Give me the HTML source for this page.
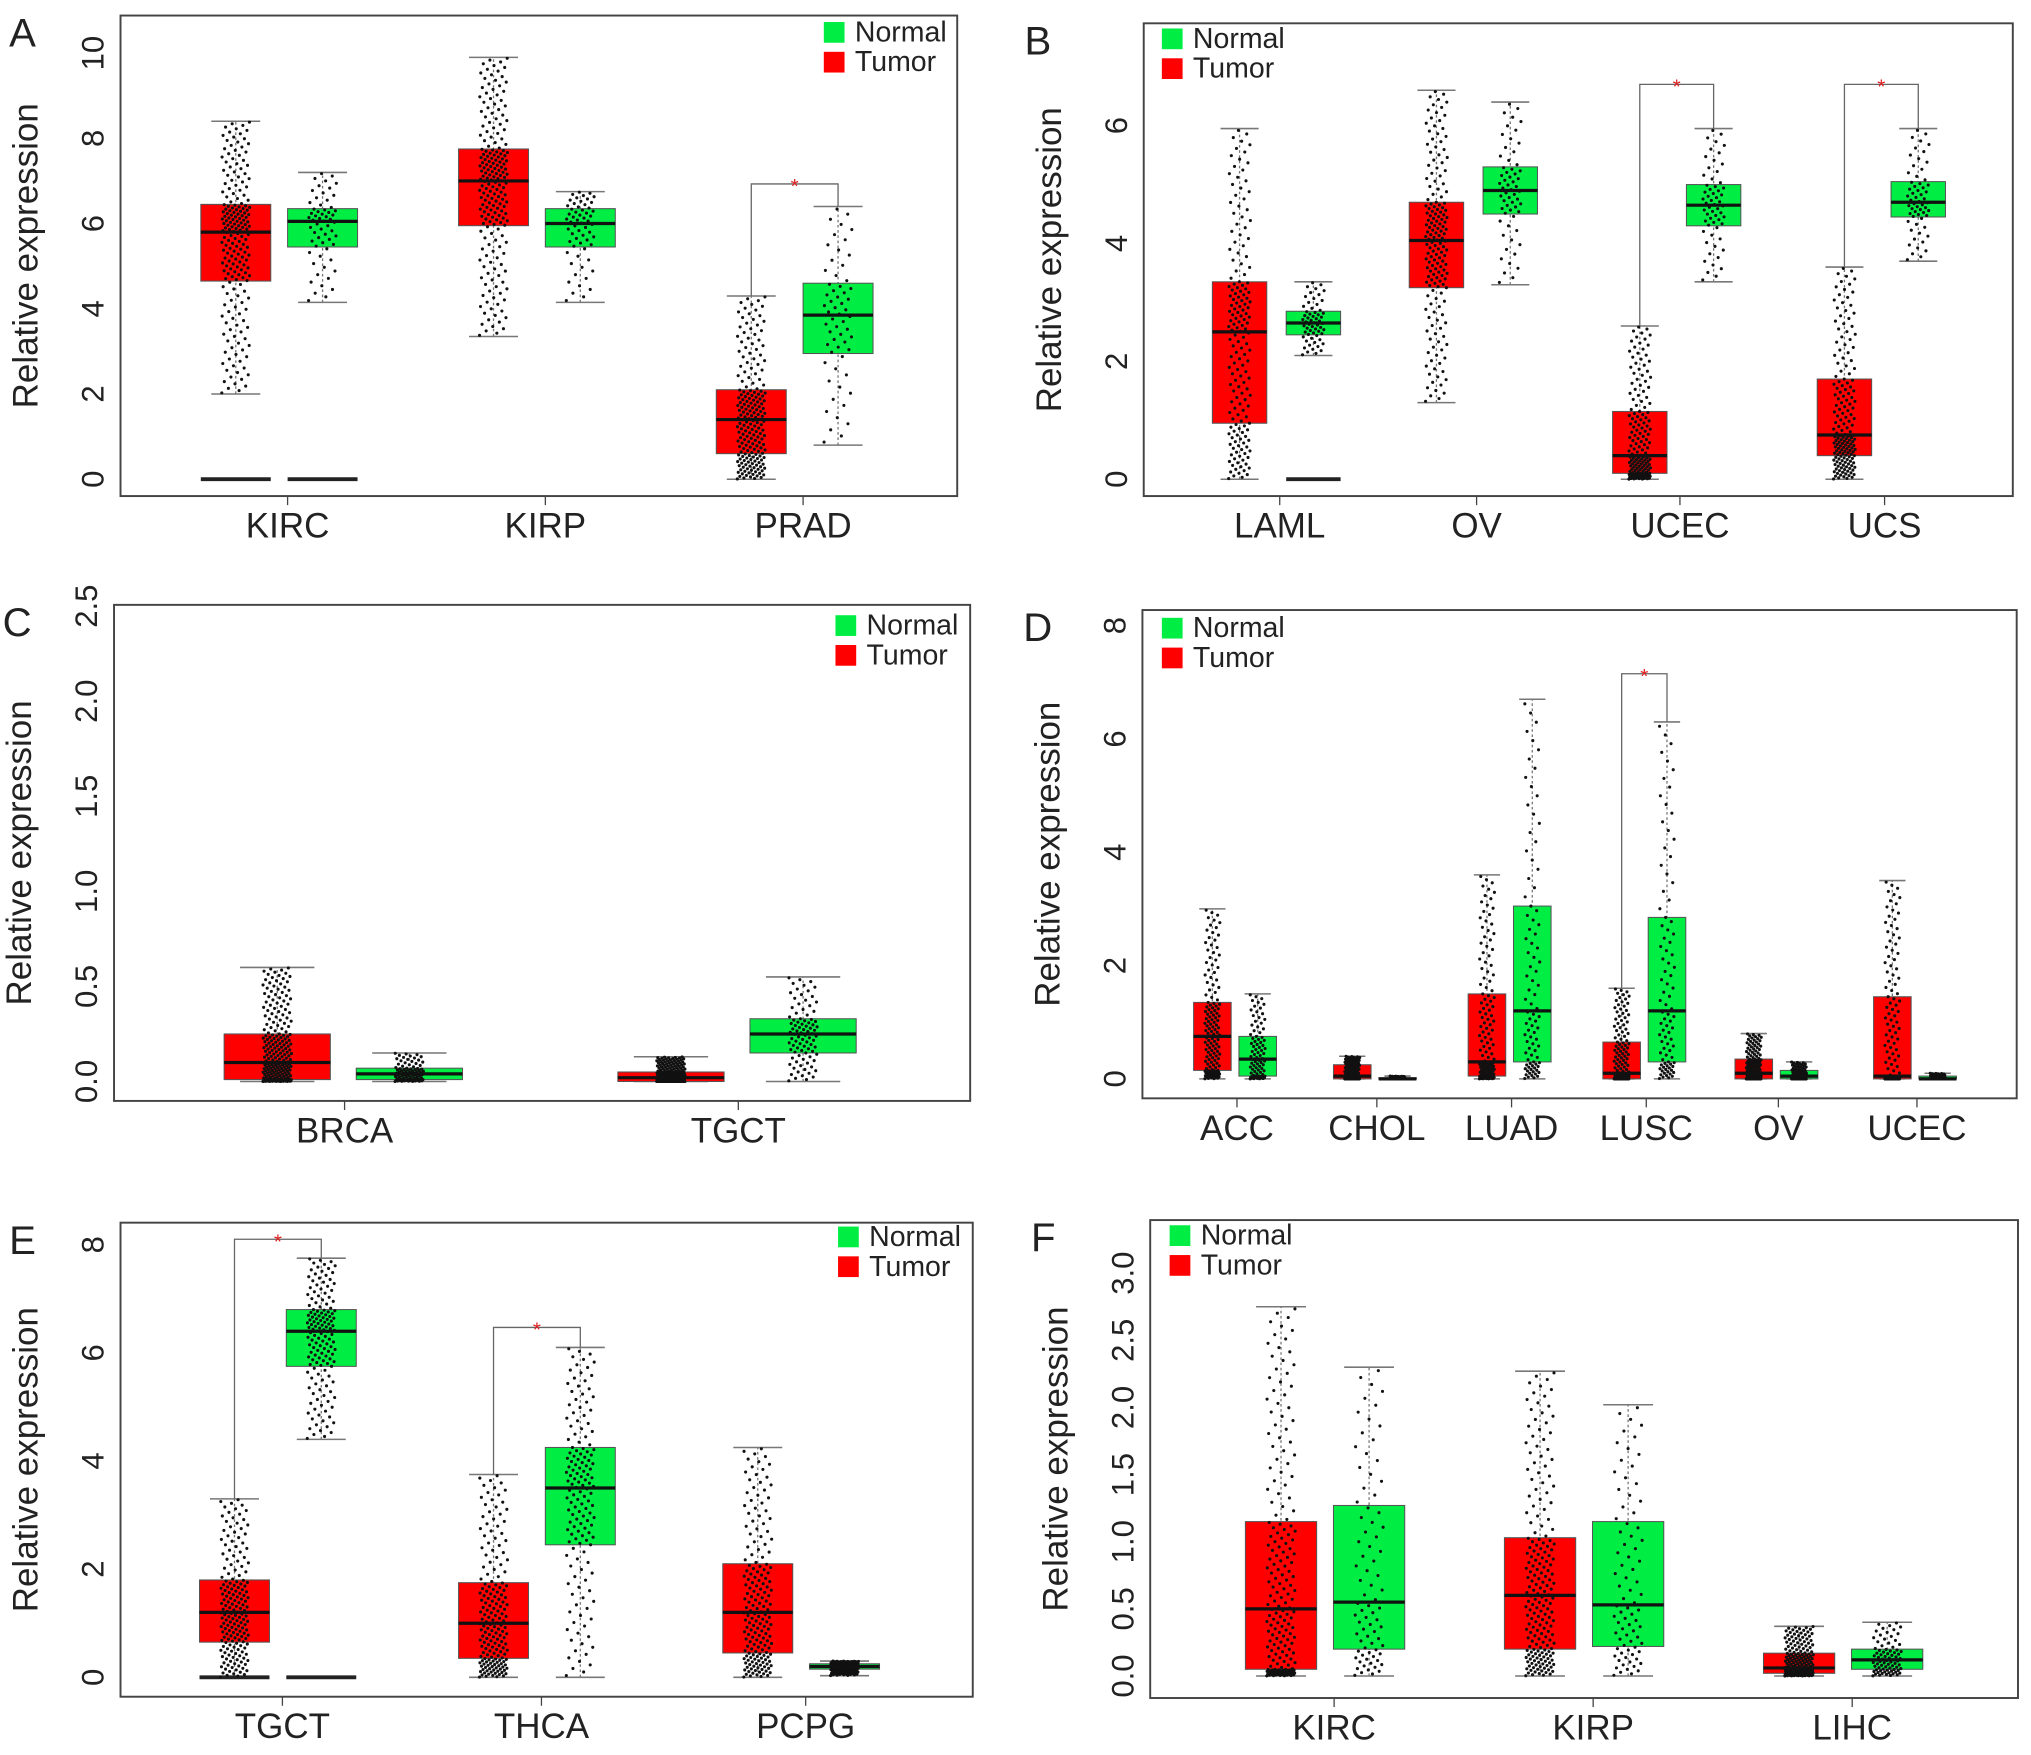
<!DOCTYPE html>
<html><head><meta charset="utf-8"><style>
html,body{margin:0;padding:0;background:#fff;}
svg{display:block;font-family:"Liberation Sans",Arial,sans-serif;}
</style></head><body>
<svg id="fig" width="2031" height="1755" viewBox="0 0 1568 1355" xmlns="http://www.w3.org/2000/svg"></svg>
<script>
// ---- data: [lo, q1, median, q3, hi] per category ----
const aCategories=["KIRC","KIRP","PRAD"];
const aTumor=[[2.0,4.65,5.8,6.45,8.4],[3.35,5.95,7.0,7.75,9.9],[0,0.6,1.4,2.1,4.3]];
const aNormal=[[4.15,5.45,6.05,6.35,7.2],[4.15,5.45,6.0,6.35,6.75],[0.8,2.95,3.85,4.6,6.4]];
const aZero=[[1,1],[0,0],[0,0]];
const aSig=[0,0,6.93];
const aTicks=[0,2,4,6,8,10];

const bCategories=["LAML","OV","UCEC","UCS"];
const bTumor=[[0,0.95,2.5,3.35,5.95],[1.3,3.25,4.05,4.7,6.6],[0,0.1,0.4,1.15,2.6],[0,0.4,0.75,1.7,3.6]];
const bNormal=[[2.1,2.45,2.65,2.85,3.35],[3.3,4.5,4.9,5.3,6.4],[3.35,4.3,4.65,5.0,5.95],[3.7,4.45,4.7,5.05,5.95]];
const bZero=[[0,1],[0,0],[0,0],[0,0]];
const bSig=[0,0,6.7,6.7];
const bTicks=[0,2,4,6];

const cCategories=["BRCA","TGCT"];
const cTumor=[[0,0.01,0.1,0.25,0.6],[0,0.0,0.02,0.05,0.13]];
const cNormal=[[0,0.01,0.04,0.07,0.15],[0,0.15,0.25,0.33,0.55]];
const cZero=[[0,0],[0,0]];
const cSig=[0,0];
const cTicks=[0,0.5,1.0,1.5,2.0,2.5];

const dCategories=["ACC","CHOL","LUAD","LUSC","OV","UCEC"];
const dTumor=[[0,0.15,0.75,1.35,3.0],[0,0,0.05,0.25,0.4],[0,0.05,0.3,1.5,3.6],[0,0,0.1,0.65,1.6],[0,0,0.1,0.35,0.8],[0,0,0.05,1.45,3.5]];
const dNormal=[[0,0.05,0.35,0.75,1.5],[0,0,0,0.02,0.05],[0,0.3,1.2,3.05,6.7],[0,0.3,1.2,2.85,6.3],[0,0,0.05,0.15,0.3],[0,0,0,0.05,0.1]];
const dZero=[[0,0],[0,0],[0,0],[0,0],[0,0],[0,0]];
const dSig=[0,0,0,7.15,0,0];
const dTicks=[0,2,4,6,8];

const eCategories=["TGCT","THCA","PCPG"];
const eTumor=[[0,0.65,1.2,1.8,3.3],[0,0.35,1.0,1.75,3.75],[0,0.45,1.2,2.1,4.25]];
const eNormal=[[4.4,5.75,6.4,6.8,7.75],[0,2.45,3.5,4.25,6.1],[0.03,0.15,0.2,0.25,0.3]];
const eZero=[[1,1],[0,0],[0,0]];
const eSig=[8.1,6.47,0];
const eTicks=[0,2,4,6,8];

const fCategories=["KIRC","KIRP","LIHC"];
const fTumor=[[0,0.05,0.5,1.15,2.75],[0,0.2,0.6,1.03,2.27],[0,0.02,0.06,0.17,0.37]];
const fNormal=[[0,0.2,0.55,1.27,2.3],[0,0.22,0.53,1.15,2.02],[0,0.05,0.12,0.2,0.4]];
const fZero=[[0,0],[0,0],[0,0]];
const fSig=[0,0,0];
const fTicks=[0,0.5,1.0,1.5,2.0,2.5,3.0];

// ---- layout ----
const panels=[
 {id:"a",letter:"A",cats:aCategories,T:aTumor,N:aNormal,Z:aZero,S:aSig,ticks:aTicks,fmt:0,box:[93,12,739,383],y0:370,yTop:41,vTop:10,cx:[222,421,620],offT:-40,offN:27,bw:54,leg:[636,17],nT:200,nN:60},
 {id:"b",letter:"B",cats:bCategories,T:bTumor,N:bNormal,Z:bZero,S:bSig,ticks:bTicks,fmt:0,box:[883,18,1554,383],y0:370,yTop:97,vTop:6,cx:[988,1140,1297,1455],offT:-31,offN:26,bw:42,leg:[897,22],nT:170,nN:60},
 {id:"c",letter:"C",cats:cCategories,T:cTumor,N:cNormal,Z:cZero,S:cSig,ticks:cTicks,fmt:1,box:[88,467,749,850],y0:835,yTop:468,vTop:2.5,cx:[266,570],offT:-52,offN:50,bw:82,leg:[645,475],nT:250,nN:90},
 {id:"d",letter:"D",cats:dCategories,T:dTumor,N:dNormal,Z:dZero,S:dSig,ticks:dTicks,fmt:0,box:[882,471,1557,848],y0:833,yTop:483,vTop:8,cx:[955,1063,1167,1271,1373,1480],offT:-19,offN:16,bw:29,leg:[897,477],nT:150,nN:90},
 {id:"e",letter:"E",cats:eCategories,T:eTumor,N:eNormal,Z:eZero,S:eSig,ticks:eTicks,fmt:0,box:[93,944,751,1310],y0:1295,yTop:961,vTop:8,cx:[218,418,622],offT:-37,offN:30,bw:54,leg:[647,947],nT:180,nN:150},
 {id:"f",letter:"F",cats:fCategories,T:fTumor,N:fNormal,Z:fZero,S:fSig,ticks:fTicks,fmt:1,box:[888,942,1558,1311],y0:1294,yTop:983,vTop:3.0,cx:[1030,1230,1430],offT:-41,offN:27,bw:55,leg:[903,946],nT:200,nN:80}
];

const NS="http://www.w3.org/2000/svg";
const svg=document.getElementById("fig");
function mk(tag,attrs,parent,text){const e=document.createElementNS(NS,tag);for(const k in attrs)e.setAttribute(k,attrs[k]);if(text!==undefined)e.textContent=text;(parent||svg).appendChild(e);return e;}
function quant(s,p){const ps=[0,0.25,0.5,0.75,1];for(let i=0;i<4;i++){if(p<=ps[i+1]){const t=(p-ps[i])/(ps[i+1]-ps[i]);return s[i]+t*(s[i+1]-s[i]);}}return s[4];}

panels.forEach(P=>{
 const g=mk("g",{});
 
 
 const [x0,yb0,x1,yb1]=P.box;
 const ys=v=>P.y0-(v/P.vTop)*(P.y0-P.yTop);
 const frame=mk("rect",{x:x0,y:yb0,width:x1-x0,height:yb1-yb0,fill:"none",stroke:"#444","stroke-width":1.5},g);
 
 
 const lt=mk("text",{x:x0-86+(P.id==="b"||P.id==="d"||P.id==="f"?-6:0),y:yb0+24,"font-size":31,fill:"#222"},g,P.letter);
 
 
 const ym=(yb0+yb1)/2;
 const yt=mk("text",{x:x0-64,y:ym,"font-size":27,fill:"#222","text-anchor":"middle",transform:`rotate(-90 ${x0-64} ${ym})`},g,"Relative expression");
 
 
 P.ticks.forEach(t=>{
  const y=ys(t);const lx=x0-13;
  const tl=mk("text",{x:lx,y:y,"font-size":24,fill:"#222","text-anchor":"middle",transform:`rotate(-90 ${lx} ${y})`},g,P.fmt?t.toFixed(1):String(t));
  
  
 });
 P.cats.forEach((c,i)=>{
  const cx=P.cx[i];
  mk("line",{x1:cx,x2:cx,y1:yb1,y2:yb1+7,stroke:"#444","stroke-width":1},g);
  const cl=mk("text",{x:cx,y:yb1+32,"font-size":27,fill:"#222","text-anchor":"middle"},g,c);
  
  
  [[P.T[i],P.offT,"#ff0000","tumor",P.nT,P.Z[i][0]],[P.N[i],P.offN,"#00ee44","normal",P.nN,P.Z[i][1]]].forEach(([s,off,col,nm,n,z])=>{
   const bx=cx+off, w=P.bw, cap=w*0.35;
   const bg=mk("g",{},g);
   
   
   mk("line",{x1:bx,x2:bx,y1:ys(s[0]),y2:ys(s[4]),stroke:"#777","stroke-width":1,"stroke-dasharray":"2,2"},bg);
   mk("line",{x1:bx-cap,x2:bx+cap,y1:ys(s[0]),y2:ys(s[0]),stroke:"#777","stroke-width":1.2},bg);
   mk("line",{x1:bx-cap,x2:bx+cap,y1:ys(s[4]),y2:ys(s[4]),stroke:"#777","stroke-width":1.2},bg);
   mk("rect",{x:bx-w/2,y:ys(s[3]),width:w,height:Math.max(1,ys(s[1])-ys(s[3])),fill:col,stroke:"#555","stroke-width":0.8},bg);
   if(z) mk("line",{x1:bx-w/2,x2:bx+w/2,y1:ys(0),y2:ys(0),stroke:"#222","stroke-width":3},bg);
   for(let k=0;k<n;k++){
    const p=(k+0.5)/n;const v=quant(s,p);
    const fx=((k*0.618034)%1)-0.5;
    const jw=Math.min(w*0.4,22);
    mk("circle",{cx:bx+fx*jw,cy:ys(v),r:1.2,fill:"#111"},bg);
   }
   mk("line",{x1:bx-w/2,x2:bx+w/2,y1:ys(s[2]),y2:ys(s[2]),stroke:"#111","stroke-width":2.5},bg);
  });
  if(P.S[i]){
   const xa=cx+P.offT,xb=cx+P.offN,yy=ys(P.S[i]);
   const sg=mk("g",{},g);
   
   
   mk("polyline",{points:`${xa},${ys(P.T[i][4])} ${xa},${yy} ${xb},${yy} ${xb},${ys(P.N[i][4])}`,fill:"none",stroke:"#666","stroke-width":1},sg);
   mk("text",{x:(xa+xb)/2,y:yy+7,"font-size":16,fill:"#e02020","text-anchor":"middle"},sg,"*");
  }
 });
 const [lx,ly]=P.leg;
 const lg=mk("g",{},g);
 
 
 mk("rect",{x:lx,y:ly,width:16,height:16,fill:"#00ee44"},lg);
 mk("text",{x:lx+24,y:ly+15,"font-size":22,fill:"#222"},lg,"Normal");
 mk("rect",{x:lx,y:ly+23,width:16,height:16,fill:"#ff0000"},lg);
 mk("text",{x:lx+24,y:ly+38,"font-size":22,fill:"#222"},lg,"Tumor");
});
</script>
</body></html>
